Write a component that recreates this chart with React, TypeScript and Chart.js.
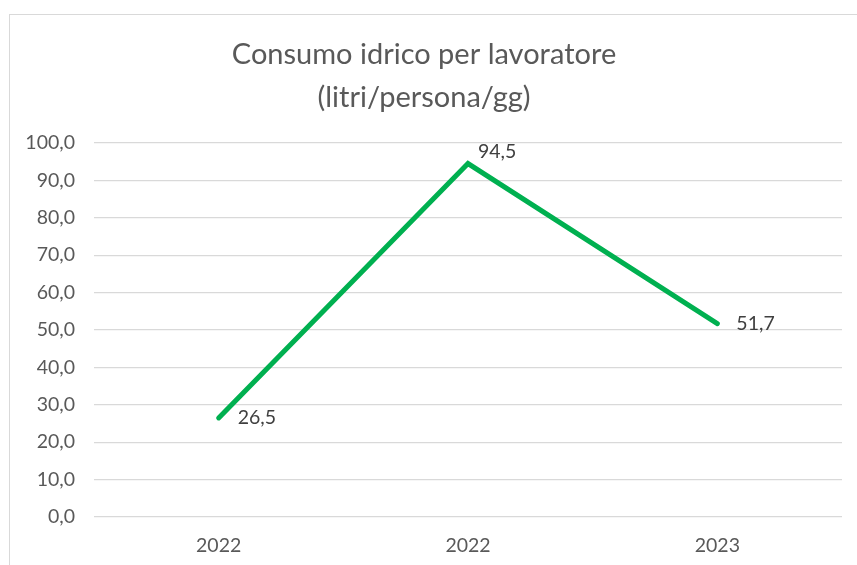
import React, { useEffect, useRef } from "react";
import { Chart, registerables } from "chart.js";

Chart.register(...registerables);

const categories = ["2022", "2022", "2023"];
const consumo = [26.5, 94.5, 51.7];
const titleLines = ["Consumo idrico per lavoratore", "(litri/persona/gg)"];
const labelOffsetsX = [19, 10, 19];
const labelOffsetsY = [0, -12, 0];

const fmt = (v: number) => v.toFixed(1).replace(".", ",");
const FONT = "Lato, 'Open Sans', sans-serif";
const TEXT = "#595959";

const titlePlugin = {
  id: "customTitle",
  afterDraw(chart: any) {
    const ctx = chart.ctx;
    ctx.save();
    ctx.fillStyle = TEXT;
    ctx.font = `29px ${FONT}`;
    ctx.textAlign = "center";
    ctx.textBaseline = "middle";
    const cx = 424;
    ctx.fillText(titleLines[0], cx, 55);
    ctx.fillText(titleLines[1], cx, 98);
    ctx.restore();
  },
};

const labelPlugin = {
  id: "pointLabels",
  afterDatasetsDraw(chart: any) {
    const ctx = chart.ctx;
    const meta = chart.getDatasetMeta(0);
    ctx.save();
    ctx.fillStyle = "#404040";
    ctx.font = `19.5px ${FONT}`;
    ctx.textAlign = "left";
    ctx.textBaseline = "middle";
    meta.data.forEach((pt: any, i: number) => {
      ctx.fillText(fmt(consumo[i]), pt.x + labelOffsetsX[i], pt.y + labelOffsetsY[i]);
    });
    ctx.restore();
  },
};

export default function App() {
  const ref = useRef<HTMLCanvasElement>(null);
  useEffect(() => {
    document.body.style.margin = "0";
    const chart = new Chart(ref.current!, {
      type: "line",
      data: {
        labels: categories,
        datasets: [
          {
            data: consumo,
            borderColor: "#00B050",
            borderWidth: 5,
            borderCapStyle: "round",
            pointRadius: 0,
            tension: 0,
          },
        ],
      },
      options: {
        animation: false,
        responsive: false,
        layout: { padding: { top: 143, right: 15, left: 0, bottom: 0 } },
        plugins: {
          legend: { display: false },
          title: { display: false },
          tooltip: { enabled: false },
        },
        scales: {
          x: {
            offset: true,
            grid: { display: false, drawTicks: false },
            border: { display: false },
            ticks: {
              color: TEXT,
              font: { family: FONT, size: 19.5 },
              padding: 17,
              maxRotation: 0,
            },
            afterFit(scale: any) {
              scale.height = 48;
            },
          },
          y: {
            min: 0,
            max: 100,
            grid: { color: "#d9d9d9", lineWidth: 1.3, drawTicks: false },
            border: { display: false },
            ticks: {
              stepSize: 10,
              color: TEXT,
              font: { family: FONT, size: 19.5 },
              padding: 19,
              callback: (v: any) => fmt(Number(v)),
            },
            afterFit(scale: any) {
              scale.width = 94;
            },
          },
        },
      },
      plugins: [titlePlugin, labelPlugin],
    } as any);
    return () => chart.destroy();
  }, []);
  return (
    <div style={{ position: "fixed", left: 0, top: 0, width: 857, height: 565, background: "#fff", overflow: "hidden" }}>
      <div
        style={{
          position: "absolute",
          left: 9,
          top: 14,
          width: 900,
          height: 600,
          border: "1px solid #d9d9d9",
        }}
      />
      <canvas ref={ref} width={857} height={565} style={{ position: "absolute", left: 0, top: 0 }} />
    </div>
  );
}
